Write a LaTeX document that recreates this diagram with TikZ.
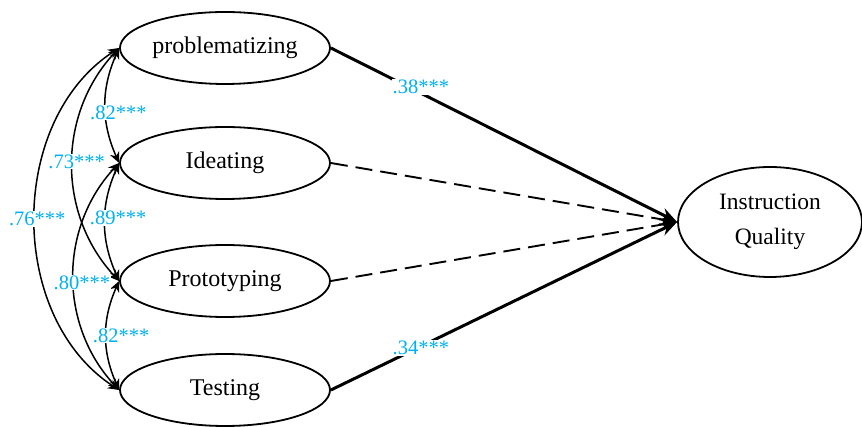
\documentclass[tikz,border=0pt]{standalone}
\usepackage{fontspec}
\setmainfont{Liberation Serif}
\usetikzlibrary{arrows.meta,shapes.geometric}
\definecolor{lblue}{RGB}{0,176,240}
\begin{document}
\begin{tikzpicture}[x=1pt,y=-1pt,
  lat/.style={draw,line width=1.8pt,ellipse,minimum width=210pt,minimum height=72pt,inner sep=0pt,font=\fontsize{24}{26}\selectfont},
  corr/.style={line width=1.5pt,{Stealth[length=11pt,width=10pt]}-{Stealth[length=11pt,width=10pt]}},
  lbl/.style={fill=white,text=lblue,inner sep=1pt,font=\fontsize{20.5}{22}\selectfont},
  path/.style={line width=3pt,-{Stealth[length=17pt,width=13pt]}},
  dpath/.style={line width=1.9pt,dash pattern=on 17pt off 8pt,-{Stealth[length=17pt,width=13pt]}}]
\useasboundingbox (0,0) rectangle (862,427);
\node[lat] (p) at (225,48) {problematizing};
\node[lat] (i) at (225,163) {Ideating};
\node[lat] (r) at (225,281) {Prototyping};
\node[lat] (t) at (225,390) {Testing};
\node[lat,minimum width=184pt,minimum height=110pt,align=center,font=\fontsize{23.5}{35}\selectfont] (q) at (770,222) {Instruction\\Quality};
% paths
\draw[path] (p.east) -- node[lbl,pos=0.26,yshift=6pt]{.38***} (q.west);
\draw[dpath] (i.east) -- (q.west);
\draw[dpath] (r.east) -- (q.west);
\draw[path] (t.east) -- node[lbl,pos=0.26,yshift=-2pt]{.34***} (q.west);
% correlations
\draw[corr] (p.west) to[bend right=24] node[lbl,xshift=13pt,yshift=-7pt]{.82***} (i.west);
\draw[corr] (i.west) to[bend right=24] node[lbl,xshift=13pt,yshift=4pt]{.89***} (r.west);
\draw[corr] (r.west) to[bend right=24] node[lbl,xshift=15pt]{.82***} (t.west);
\draw[corr] (p.west) to[bend right=43] node[lbl,xshift=4pt,yshift=3pt]{.73***} (r.west);
\draw[corr] (i.west) to[bend right=43] node[lbl,xshift=8pt,yshift=-6pt]{.80***} (t.west);
\draw[corr] (p.west) to[bend right=57] node[lbl,xshift=2pt]{.76***} (t.west);
\end{tikzpicture}
\end{document}
